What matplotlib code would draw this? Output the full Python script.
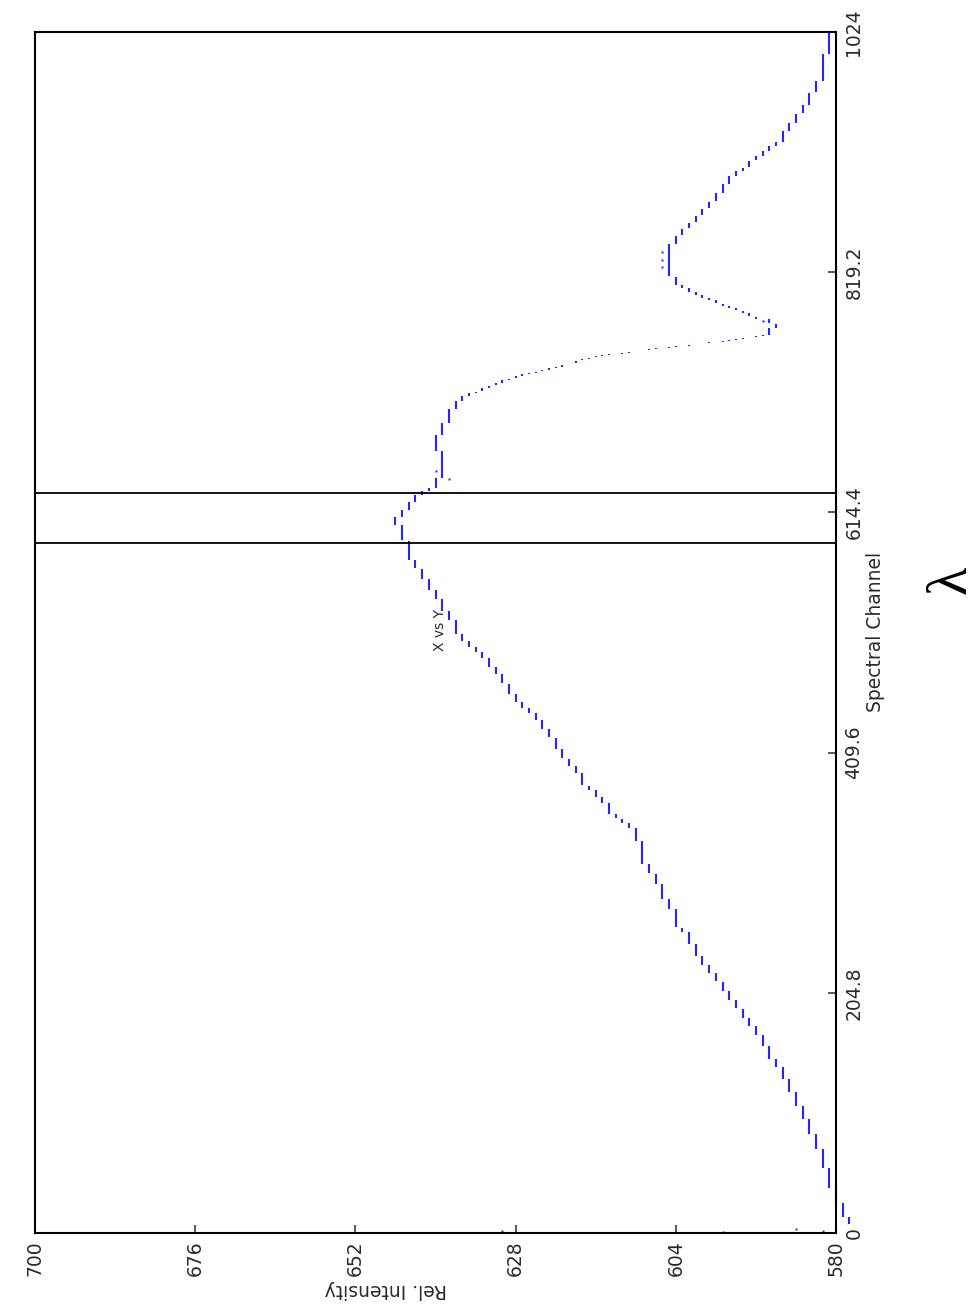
import matplotlib

matplotlib.use("Agg")
import matplotlib.pyplot as plt
import numpy as np

# quantised spectrum: each run is one intensity level held over a channel range
run_level = [
    578, 579, 580, 581, 582, 583, 584, 585, 586, 587, 588, 589, 590, 591, 592,
    593, 594, 595, 596, 597, 598, 599, 600, 601, 602, 603, 604, 605, 606, 607,
    608, 609, 610, 611, 612, 613, 614, 615, 616, 617, 618, 619, 620, 621, 622,
    623, 624, 625, 626, 627, 628, 629, 630, 631, 632, 633, 634, 635, 636, 637,
    638, 639, 640, 641, 642, 643, 644, 645, 646, 645, 644, 643, 642, 641, 640,
    639, 640, 639, 638, 637, 636, 635, 634, 633, 632, 631, 630, 629, 628, 627,
    626, 625, 624, 623, 622, 621, 619, 618, 617, 616, 615, 614, 612, 611, 610,
    608, 607, 605, 604, 602, 601, 599, 597, 596, 595, 594, 592, 591, 590, 589,
    590, 592, 593, 594, 595, 596, 597, 598, 599, 600, 601, 602, 603, 604, 605,
    604, 603, 602, 601, 600, 599, 598, 597, 596, 595, 594, 593, 592, 591, 590,
    589, 588, 587, 586, 585, 584, 583, 582, 581,
]
run_first = [
    8, 14, 26, 39, 56, 72, 85, 98, 109, 121, 132, 142, 149, 160, 169,
    177, 184, 192, 199, 207, 215, 222, 229, 237, 247, 257, 261, 277, 285, 298,
    307, 315, 335, 346, 350, 354, 358, 367, 372, 378, 382, 393, 399, 405, 413,
    423, 430, 438, 444, 448, 453, 460, 469, 477, 483, 491, 496, 500, 505, 511,
    523, 531, 541, 549, 558, 567, 574, 591, 604, 611, 617, 624, 630, 633, 636,
    644, 667, 681, 691, 703, 710, 714, 717, 718, 721, 723, 725, 728, 729, 731,
    733, 734, 735, 736, 738, 739, 742, 745, 746, 747, 748, 749, 750, 751, 752,
    753, 754, 755, 756, 757, 758, 759, 760, 761, 762, 763, 764, 765, 766, 772,
    776, 780, 782, 785, 787, 789, 791, 793, 796, 798, 800, 803, 806, 809, 816,
    844, 851, 857, 862, 868, 874, 880, 887, 895, 902, 906, 909, 915, 919, 923,
    927, 931, 940, 947, 955, 962, 973, 983, 1006,
]
run_last = [
    13, 25, 38, 55, 71, 84, 97, 108, 120, 131, 141, 148, 159, 168, 176,
    183, 191, 198, 206, 214, 221, 228, 236, 246, 256, 260, 276, 284, 297, 306,
    314, 334, 345, 349, 353, 357, 366, 371, 377, 381, 392, 398, 404, 412, 422,
    429, 437, 443, 447, 452, 459, 468, 476, 482, 490, 495, 499, 504, 510, 522,
    530, 540, 548, 557, 566, 573, 590, 603, 610, 616, 623, 629, 632, 635, 643,
    666, 680, 690, 702, 709, 713, 716, 717, 720, 722, 724, 727, 728, 730, 732,
    733, 734, 735, 737, 738, 740, 743, 745, 746, 747, 748, 749, 750, 751, 752,
    753, 754, 755, 756, 757, 758, 759, 760, 761, 762, 763, 764, 765, 771, 775,
    779, 781, 784, 786, 788, 790, 792, 795, 797, 799, 802, 805, 808, 815, 843,
    850, 856, 861, 867, 873, 879, 886, 894, 901, 905, 908, 914, 918, 922, 926,
    930, 939, 946, 954, 961, 972, 982, 1005, 1023,
]

# isolated samples
stray_level = [630, 597, 586, 582, 606, 606, 606, 591, 638, 640]
stray_channel = [2, 1, 3, 2, 824, 830, 836, 778, 643, 650]

cursor_channels = [588, 631]

intensity_ticks = [700, 676, 652, 628, 604, 580]
channel_ticks = [0, 204.8, 409.6, 614.4, 819.2, 1024]
channel_labels = ["0", "204.8", "409.6", "614.4", "819.2", "1024"]

BLUE = "#2424ff"
INK = "#2a2a2a"
W, H = 980, 1312

fig = plt.figure(figsize=(W / 100, H / 100), dpi=100)
ax = fig.add_axes([35 / W, 79 / H, 801 / W, 1201 / H])

first = np.array(run_first, dtype=float)
last = np.array(run_last, dtype=float)
ax.vlines(run_level, first - 0.4, last + 0.4, colors=BLUE, linewidth=1.5, clip_on=False)
ax.plot(stray_level, stray_channel, "s", ms=1.8, color=BLUE, mec="none", clip_on=False)

for c in cursor_channels:
    ax.axhline(c, color="black", linewidth=1.3)

ax.set_xlim(700, 580)
ax.set_ylim(0, 1024)

ax.set_xticks(intensity_ticks)
ax.set_xticklabels([str(v) for v in intensity_ticks], rotation=90)
ax.yaxis.tick_right()
ax.set_yticks(channel_ticks)
ax.set_yticklabels(channel_labels, rotation=90, va="center")
ax.tick_params(axis="both", direction="in", length=6, width=1.1, labelsize=13.5, colors=INK)
ax.tick_params(axis="x", pad=5)
ax.tick_params(axis="y", pad=6)
for s in ax.spines.values():
    s.set_linewidth(1.5)
    s.set_color("black")

fig.text(875 / W, 1 - 632 / H, "Spectral Channel", rotation=90, ha="center", va="center",
         fontsize=13.5, color=INK)
fig.text(386 / W, 1 - 1289 / H, "Rel. Intensity", rotation=180, ha="center", va="center",
         fontsize=13.5, color=INK)
fig.text(440 / W, 1 - 630 / H, "X vs Y", rotation=90, ha="center", va="center",
         fontsize=10, color=INK)
fig.text(951 / W, 1 - 580 / H, "λ", rotation=90, ha="center", va="center",
         fontsize=42, family=["Liberation Serif", "DejaVu Serif"], color="black")

fig.savefig("out.png", dpi=100)
